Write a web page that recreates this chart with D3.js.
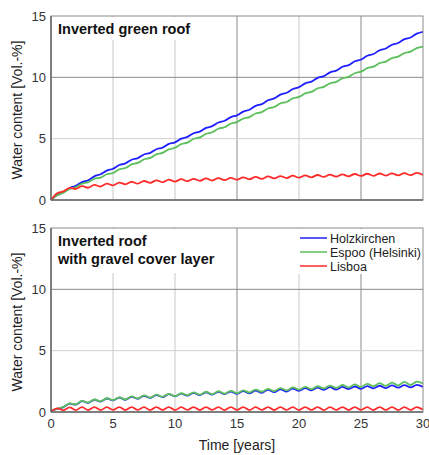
<!DOCTYPE html>
<html>
<head>
<meta charset="utf-8">
<script src="https://cdn.jsdelivr.net/npm/d3@7"></script>
<style>
  body { margin: 0; background: #fff; }
  text { font-family: "Liberation Sans", Arial, sans-serif; }
</style>
</head>
<body>
<svg id="chart" width="429" height="455"></svg>
<script>
// time in years, half-year steps
const TIME = d3.range(0, 30.001, 0.5)
const X_TICKS = [0, 5, 10, 15, 20, 25, 30]
const Y_TICKS = [0, 5, 10, 15]
const SERIES_NAMES = ['Holzkirchen', 'Espoo (Helsinki)', 'Lisboa']

// top panel: inverted green roof
const greenRoofHolz = [0, 0.4, 0.65, 0.98, 1.15, 1.46, 1.6, 1.93, 2.1, 2.4, 2.55, 2.85, 2.98, 3.28, 3.41, 3.71,
  3.84, 4.14, 4.27, 4.57, 4.7, 5.0, 5.14, 5.44, 5.58, 5.88, 6.02, 6.32, 6.46, 6.76, 6.9, 7.21, 7.36, 7.67,
  7.82, 8.13, 8.28, 8.59, 8.74, 9.05, 9.2, 9.51, 9.65, 9.96, 10.1, 10.41, 10.55, 10.86, 11.0, 11.31, 11.45,
  11.76, 11.9, 12.21, 12.35, 12.66, 12.8, 13.11, 13.25, 13.56, 13.7]
const greenRoofEspoo = [0, 0.38, 0.6, 0.9, 1.05, 1.33, 1.45, 1.72, 1.83, 2.1, 2.2, 2.49, 2.61, 2.9, 3.02, 3.31,
  3.43, 3.72, 3.84, 4.13, 4.26, 4.55, 4.68, 4.97, 5.1, 5.39, 5.52, 5.81, 5.93, 6.22, 6.35, 6.64, 6.76, 7.05,
  7.17, 7.46, 7.58, 7.87, 7.99, 8.28, 8.4, 8.69, 8.81, 9.1, 9.22, 9.51, 9.63, 9.92, 10.04, 10.33, 10.46,
  10.75, 10.87, 11.16, 11.28, 11.57, 11.69, 11.98, 12.1, 12.38, 12.5]
const greenRoofLisboa = [0, 0.55, 0.7, 0.98, 0.9, 1.13, 1.0, 1.23, 1.1, 1.33, 1.2, 1.42, 1.28, 1.48, 1.33, 1.55,
  1.4, 1.6, 1.45, 1.66, 1.5, 1.7, 1.53, 1.73, 1.56, 1.76, 1.59, 1.78, 1.62, 1.81, 1.65, 1.85, 1.69, 1.88,
  1.72, 1.92, 1.76, 1.95, 1.79, 1.98, 1.82, 2.01, 1.85, 2.04, 1.88, 2.07, 1.9, 2.09, 1.93, 2.12, 1.96,
  2.14, 1.97, 2.16, 1.99, 2.17, 2.0, 2.19, 2.02, 2.21, 2.04]

// bottom panel: inverted roof with gravel cover layer
const gravelHolz = [0.1, 0.25, 0.4, 0.68, 0.6, 0.88, 0.75, 1.0, 0.85, 1.1, 0.95, 1.18, 1.0, 1.24, 1.08, 1.32,
  1.15, 1.38, 1.22, 1.45, 1.28, 1.5, 1.33, 1.56, 1.38, 1.6, 1.42, 1.64, 1.45, 1.67, 1.48, 1.7, 1.52, 1.75,
  1.57, 1.8, 1.62, 1.85, 1.67, 1.9, 1.72, 1.94, 1.76, 1.98, 1.8, 2.02, 1.83, 2.05, 1.86, 2.08, 1.89,
  2.11, 1.92, 2.14, 1.95, 2.17, 1.98, 2.19, 2.0, 2.21, 2.05]
const gravelEspoo = [0.1, 0.25, 0.42, 0.7, 0.62, 0.9, 0.77, 1.02, 0.87, 1.12, 0.97, 1.2, 1.02, 1.27, 1.1, 1.35,
  1.17, 1.41, 1.24, 1.48, 1.3, 1.53, 1.36, 1.6, 1.42, 1.65, 1.46, 1.69, 1.5, 1.73, 1.54, 1.77, 1.59, 1.83,
  1.65, 1.89, 1.7, 1.95, 1.76, 2.0, 1.82, 2.05, 1.87, 2.1, 1.92, 2.15, 1.96, 2.2, 2.0, 2.25, 2.04,
  2.3, 2.09, 2.35, 2.13, 2.4, 2.17, 2.45, 2.2, 2.48, 2.32]
const gravelLisboa = [0.05, 0.3, 0.15, 0.38, 0.16, 0.39, 0.16, 0.4, 0.16, 0.39, 0.17, 0.4, 0.16, 0.4, 0.17, 0.39,
  0.16, 0.4, 0.17, 0.4, 0.16, 0.39, 0.17, 0.4, 0.16, 0.4, 0.17, 0.39, 0.16, 0.4, 0.17, 0.4, 0.16, 0.39,
  0.17, 0.4, 0.16, 0.4, 0.17, 0.39, 0.16, 0.4, 0.17, 0.4, 0.16, 0.39, 0.17, 0.4, 0.16, 0.4, 0.17,
  0.39, 0.16, 0.4, 0.17, 0.4, 0.16, 0.39, 0.17, 0.4, 0.18]

const COLORS = ['#1f1fff', '#5cbf5c', '#ff2a2a']

const svg = d3.select('#chart')
const left = 51, right = 423

const x = d3.scaleLinear().domain([0, 30]).range([left, right])

const panels = [
  {
    top: 16, bottom: 200,
    title: ['Inverted green roof'],
    series: [greenRoofHolz, greenRoofEspoo, greenRoofLisboa],
    masks: [[52, 17, 150, 23]],
    xLabels: false,
    legend: false
  },
  {
    top: 228, bottom: 412,
    title: ['Inverted roof', 'with gravel cover layer'],
    series: [gravelHolz, gravelEspoo, gravelLisboa],
    masks: [[52, 229, 178, 44], [242, 229, 180, 45]],
    xLabels: true,
    legend: true
  }
]

// grid tone mimics the reference (some lines darker than others)
const darkX = [15, 25]
const darkY = [10]

panels.forEach(p => {
  const y = d3.scaleLinear().domain([0, 15]).range([p.bottom, p.top])
  const g = svg.append('g')

  // grid
  g.selectAll('.vgrid')
    .data(X_TICKS.slice(1, -1))
    .join('line')
      .attr('x1', d => x(d)).attr('x2', d => x(d))
      .attr('y1', p.top).attr('y2', p.bottom)
      .attr('stroke', d => darkX.includes(d) ? '#8a8a8a' : '#c8c8c8')
      .attr('stroke-width', 1)
  g.selectAll('.hgrid')
    .data(Y_TICKS.slice(1, -1))
    .join('line')
      .attr('x1', left).attr('x2', right)
      .attr('y1', d => y(d)).attr('y2', d => y(d))
      .attr('stroke', d => darkY.includes(d) ? '#8a8a8a' : '#d0d0d0')
      .attr('stroke-width', 1)

  // white boxes behind title / legend hide the grid there
  p.masks.forEach(m => {
    g.append('rect')
      .attr('x', m[0]).attr('y', m[1]).attr('width', m[2]).attr('height', m[3])
      .attr('fill', '#fff')
  })

  // series
  const line = d3.line()
    .x((d, i) => x(TIME[i]))
    .y(d => y(d))
    .curve(d3.curveCatmullRom)
  p.series.forEach((s, i) => {
    g.append('path')
      .datum(s)
      .attr('d', line)
      .attr('fill', 'none')
      .attr('stroke', COLORS[i])
      .attr('stroke-width', 1.8)
  })

  // frame
  g.append('rect')
    .attr('x', left).attr('y', p.top)
    .attr('width', right - left).attr('height', p.bottom - p.top)
    .attr('fill', 'none').attr('stroke', '#8c8c8c').attr('stroke-width', 1)
  g.append('line')
    .attr('x1', left).attr('x2', left).attr('y1', p.top).attr('y2', p.bottom)
    .attr('stroke', '#666').attr('stroke-width', 1.5)
  g.append('line')
    .attr('x1', left).attr('x2', right).attr('y1', p.bottom).attr('y2', p.bottom)
    .attr('stroke', '#666').attr('stroke-width', 1.5)

  // y tick labels
  g.selectAll('.ytick')
    .data(Y_TICKS)
    .join('text')
      .attr('x', left - 5)
      .attr('y', d => y(d) + 4.5)
      .attr('text-anchor', 'end')
      .attr('font-size', 13)
      .attr('fill', '#333')
      .text(d => d)

  if (p.xLabels) {
    g.selectAll('.xtick')
      .data(X_TICKS)
      .join('text')
        .attr('x', d => x(d))
        .attr('y', p.bottom + 16)
        .attr('text-anchor', 'middle')
        .attr('font-size', 13)
        .attr('fill', '#333')
        .text(d => d)
  }

  // title
  p.title.forEach((t, i) => {
    g.append('text')
      .attr('x', 58)
      .attr('y', p.top + 18 + i * 18)
      .attr('font-size', 14.5)
      .attr('font-weight', 'bold')
      .attr('fill', '#111')
      .text(t)
  })

  // y axis label
  g.append('text')
    .attr('transform', `translate(22, ${(p.top + p.bottom) / 2 + 2}) rotate(-90)`)
    .attr('text-anchor', 'middle')
    .attr('font-size', 14)
    .attr('fill', '#222')
    .text('Water content [Vol.-%]')

  if (p.legend) {
    const lg = g.append('g').attr('transform', `translate(300, ${p.top + 10})`)
    SERIES_NAMES.forEach((name, i) => {
      lg.append('line')
        .attr('x1', 0).attr('x2', 27)
        .attr('y1', i * 14).attr('y2', i * 14)
        .attr('stroke', COLORS[i]).attr('stroke-width', 1.5)
      lg.append('text')
        .attr('x', 30).attr('y', i * 14 + 4.5)
        .attr('font-size', 12.5)
        .attr('fill', '#222')
        .text(name)
    })
  }
})

svg.append('text')
  .attr('x', (left + right) / 2)
  .attr('y', 450)
  .attr('text-anchor', 'middle')
  .attr('font-size', 14)
  .attr('fill', '#222')
  .text('Time [years]')
</script>
</body>
</html>
